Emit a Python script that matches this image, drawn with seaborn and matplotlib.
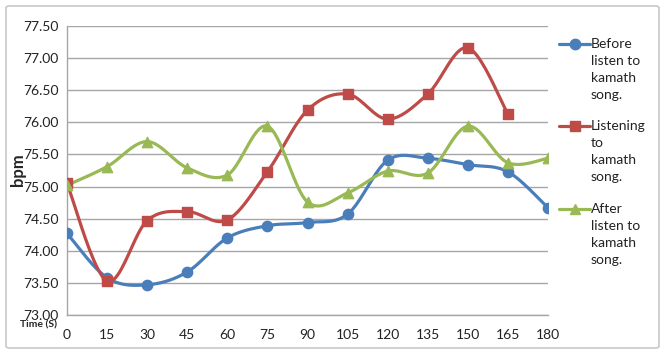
import numpy as np
import seaborn as sns
import matplotlib.pyplot as plt
from matplotlib.lines import Line2D
from matplotlib.patches import FancyBboxPatch

time_s = [0, 15, 30, 45, 60, 75, 90, 105, 120, 135, 150, 165, 180]
before = [74.27, 73.58, 73.47, 73.67, 74.20, 74.39, 74.44, 74.57, 75.41, 75.44, 75.34, 75.23, 74.67]
listening = [75.05, 73.53, 74.47, 74.61, 74.48, 75.23, 76.19, 76.44, 76.05, 76.44, 77.16, 76.13]
after = [75.02, 75.31, 75.70, 75.29, 75.18, 75.94, 74.76, 74.90, 75.24, 75.21, 75.94, 75.37, 75.44]
labels = ["Before\nlisten to\nkamath\nsong.",
          "Listening\nto\nkamath\nsong.",
          "After\nlisten to\nkamath\nsong."]
colors = ["#4A7EBB", "#BE4B48", "#98B954"]
markers = ["o", "s", "^"]
msize = {"o": 55, "s": 42, "^": 55}


def smooth(x, y, n=24):
    # Excel-style smoothed line (Catmull-Rom as cubic Bezier)
    p = np.column_stack([x, y]).astype(float)
    p = np.vstack([p[0], p, p[-1]])
    out = []
    t = np.linspace(0, 1, n)[:, None]
    for i in range(1, len(p) - 2):
        p0, p1, p2, p3 = p[i - 1], p[i], p[i + 1], p[i + 2]
        c1 = p1 + (p2 - p0) / 6
        c2 = p2 - (p3 - p1) / 6
        seg = ((1 - t) ** 3) * p1 + 3 * ((1 - t) ** 2) * t * c1 + 3 * (1 - t) * t ** 2 * c2 + t ** 3 * p2
        out.append(seg if i == 1 else seg[1:])
    s = np.vstack(out)
    return s[:, 0], s[:, 1]


sns.set_theme(style="whitegrid")
plt.rcParams['font.family'] = ['Lato', 'DejaVu Sans']

fig = plt.figure(figsize=(6.66, 3.54), dpi=100)
ax = fig.add_axes([67 / 666, 1 - 315 / 354, 481 / 666, 289 / 354])

series = [before, listening, after]
for vals, col, mk in zip(series, colors, markers):
    xs = time_s[:len(vals)]
    sx, sy = smooth(xs, vals)
    sns.lineplot(x=sx, y=sy, ax=ax, color=col, lw=2.3, sort=False, zorder=3)
    sns.scatterplot(x=xs, y=vals, ax=ax, color=col, marker=mk, s=msize[mk],
                    edgecolor=col, linewidth=1, zorder=4)

ax.set_xlim(0, 180)
ax.set_ylim(73.0, 77.5)
ax.set_xticks(time_s)
ax.set_yticks(np.arange(73.0, 77.51, 0.5))
ax.set_yticklabels([f"{v:.2f}" for v in np.arange(73.0, 77.51, 0.5)])
ax.tick_params(axis='y', labelsize=10, colors="#222222", length=0, pad=6)
ax.tick_params(axis='x', labelsize=10, colors="#222222", length=0, pad=10)
ax.grid(axis='y', color="#A6A6A6", lw=1)
ax.grid(axis='x', visible=False)
for side in ["top", "right"]:
    ax.spines[side].set_visible(False)
for side in ["left", "bottom"]:
    ax.spines[side].set_color("#A6A6A6")
    ax.spines[side].set_linewidth(1)
ax.set_facecolor("white")

fig.text(18 / 666, 1 - 170 / 354, "bpm", rotation=90, fontsize=12, fontweight="bold",
         ha="center", va="center")
fig.text(38 / 666, 1 - 325 / 354, "Time (S)", fontsize=7.5, fontweight="bold",
         ha="center", va="center")

# legend
ys_first = [44, 126, 209]
for lab, col, mk, y0 in zip(labels, colors, markers, ys_first):
    yf = 1 - y0 / 354
    fig.add_artist(Line2D([559 / 666, 590 / 666], [yf, yf], color=col, lw=2.3,
                          transform=fig.transFigure))
    fig.add_artist(Line2D([574.5 / 666], [yf], color=col, marker=mk,
                          markersize=7.5 if mk != "s" else 6.5, transform=fig.transFigure))
    fig.text(591 / 666, yf + 6 / 354, lab, fontsize=10, ha="left", va="top",
             linespacing=1.5, color="#222222")

fig.add_artist(FancyBboxPatch((6 / 666, 6 / 354), 653 / 666, 342 / 354,
                              boxstyle="round,pad=0,rounding_size=0.005",
                              transform=fig.transFigure, fill=False,
                              edgecolor="#C8C8C8", lw=1.2))

fig.savefig("out.png", dpi=100, facecolor="white")
